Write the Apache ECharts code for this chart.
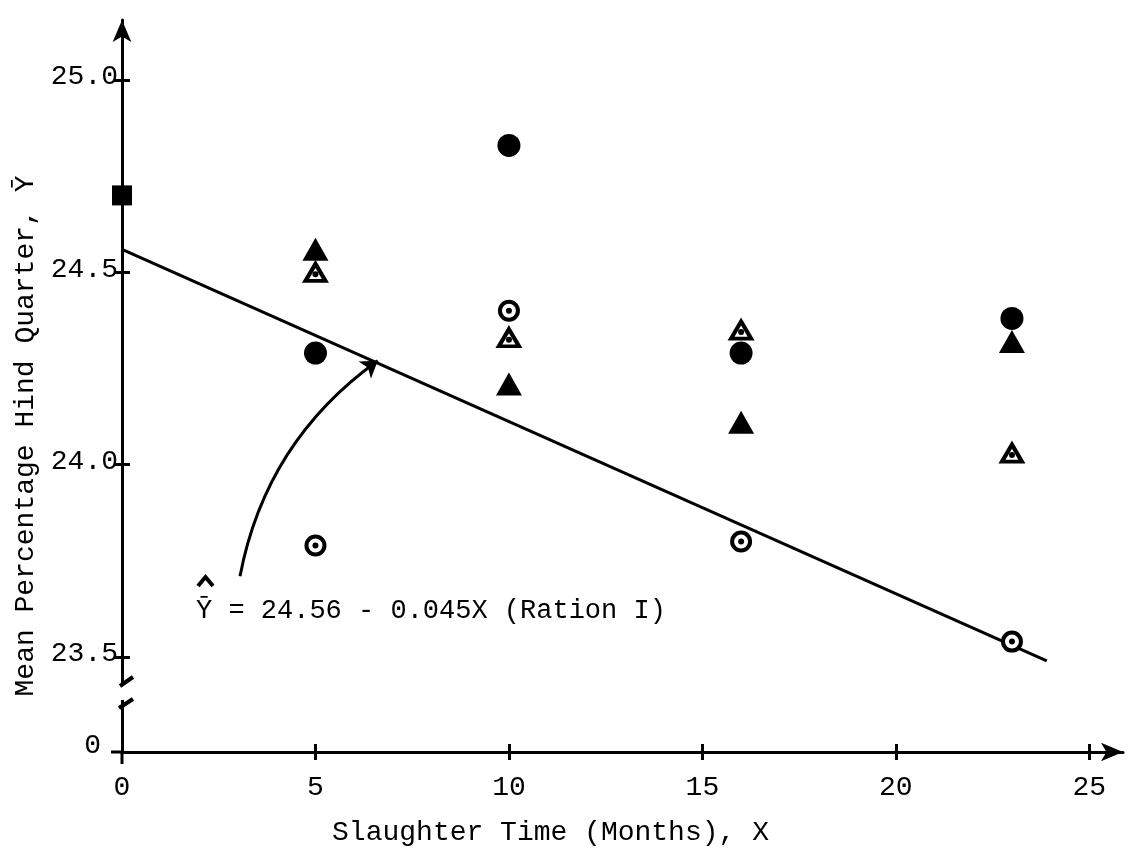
<!DOCTYPE html>
<html>
<head>
<meta charset="utf-8">
<title>Mean Percentage Hind Quarter vs Slaughter Time</title>
<script src="https://cdn.jsdelivr.net/npm/echarts@6/dist/echarts.min.js"></script>
<style>
  html, body { margin: 0; padding: 0; background: #fff; }
  #chart { width: 1135px; height: 855px; }
</style>
</head>
<body>
<div id="chart"></div>
<script>
// values: [months, mean % hind quarter]
const initial = [[0, 24.70]]
const filledCircles = [[5, 24.29], [10, 24.83], [16, 24.29], [23, 24.38]]
const filledTriangles = [[5, 24.56], [10, 24.21], [16, 24.11], [23, 24.32]]
const openTriangles = [[5, 24.50], [10, 24.33], [16, 24.35], [23, 24.03]]
const circledDots = [[5, 23.79], [10, 24.40], [16, 23.80], [23, 23.54]] // Ration I
const fitLine = [[0, 24.56], [23.9, 23.49]]
const arrowPath = [[3.05, 23.71], [6.61, 24.27]]

const xTicks = [5, 10, 15, 20, 25]
const xLabels = [0, 5, 10, 15, 20, 25]
const yTicks = [23.5, 24.0, 24.5, 25.0]
const yZero = 23.253 // bottom of the broken axis, shown as 0
const yLabels = [yZero, 23.5, 24.0, 24.5, 25.0]

const FONT = '"Liberation Mono", "DejaVu Sans Mono", monospace'
const INK = '#000'
const X_MAX = 25.87
const Y_MAX = 25.156

const chart = echarts.init(document.getElementById('chart'), null, { renderer: 'canvas' })

const textStyle = { color: INK, fontFamily: FONT, fontSize: 28 }

// second axis of each kind only draws the inner half of the crossing ticks
const innerTicks = (values) => ({
  show: true, inside: true, length: 8, customValues: values,
  lineStyle: { color: INK, width: 3 }
})

const solid = { color: INK, opacity: 1 }
const hollow = { color: '#fff', borderColor: INK, borderWidth: 4, opacity: 1 }

const option = {
  animation: false,
  backgroundColor: '#fff',
  grid: { left: 122, top: 20, width: 1001, height: 732 },
  xAxis: [
    {
      type: 'value', min: 0, max: X_MAX, position: 'bottom',
      name: 'Slaughter Time (Months), X',
      nameLocation: 'middle', nameGap: 67,
      nameTextStyle: { ...textStyle, padding: [0, 144, 0, 0] },
      axisLine: {
        show: true, symbol: ['none', 'arrow'], symbolSize: [14, 22],
        lineStyle: { color: INK, width: 3 }
      },
      axisTick: { show: true, length: 8, customValues: xTicks, lineStyle: { color: INK, width: 3 } },
      axisLabel: { ...textStyle, margin: 22, customValues: xLabels },
      splitLine: { show: false }
    },
    {
      type: 'value', min: 0, max: X_MAX, position: 'bottom', offset: 0,
      axisLine: { show: false },
      axisTick: innerTicks(xTicks),
      axisLabel: { show: false },
      splitLine: { show: false }
    }
  ],
  yAxis: [
    {
      type: 'value', min: yZero, max: Y_MAX, position: 'left',
      name: 'Mean Percentage Hind Quarter, \u0232',
      nameLocation: 'middle', nameGap: 78,
      nameTextStyle: { ...textStyle, padding: [0, 100, 0, 0] },
      axisLine: {
        show: true, symbol: ['none', 'arrow'], symbolSize: [14, 22],
        lineStyle: { color: INK, width: 3 }
      },
      axisTick: { show: true, length: 8, customValues: yTicks, lineStyle: { color: INK, width: 3 } },
      axisLabel: {
        ...textStyle, margin: 4, customValues: yLabels,
        formatter: (v) => Math.abs(v - yZero) < 1e-6 ? '{z|0}' : '{n|' + v.toFixed(1) + '}',
        rich: {
          z: { ...textStyle, padding: [0, 17, 12, 0] },
          n: { ...textStyle, padding: [0, 0, 6, 0] }
        }
      },
      splitLine: { show: false }
    },
    {
      type: 'value', min: yZero, max: Y_MAX, position: 'left', offset: 0,
      axisLine: { show: false },
      axisTick: innerTicks(yTicks),
      axisLabel: { show: false },
      splitLine: { show: false }
    }
  ],
  series: [
    {
      name: 'Fitted line (Ration I)',
      type: 'line',
      data: fitLine,
      symbol: 'none',
      lineStyle: { color: INK, width: 3 },
      z: 2
    },
    {
      name: 'Pointer',
      type: 'lines',
      coordinateSystem: 'cartesian2d',
      data: [{ coords: arrowPath }],
      symbol: ['none', 'arrow'],
      symbolSize: 16,
      lineStyle: { color: INK, width: 3, curveness: 0.2, opacity: 1 },
      z: 2
    },
    {
      name: 'Initial',
      type: 'scatter',
      data: initial,
      symbol: 'rect',
      symbolSize: [20, 20],
      itemStyle: solid,
      z: 3
    },
    {
      name: 'Filled circle',
      type: 'scatter',
      data: filledCircles,
      symbol: 'circle',
      symbolSize: 23,
      itemStyle: solid,
      z: 3
    },
    {
      name: 'Filled triangle',
      type: 'scatter',
      data: filledTriangles,
      symbol: 'triangle',
      symbolSize: [26, 23],
      itemStyle: solid,
      z: 3
    },
    {
      name: 'Open triangle',
      type: 'scatter',
      data: openTriangles,
      symbol: 'triangle',
      symbolSize: [20, 17],
      itemStyle: hollow,
      z: 3
    },
    {
      name: 'Open triangle dot',
      type: 'scatter',
      data: openTriangles,
      symbol: 'circle',
      symbolSize: 6,
      symbolOffset: [0, 2],
      itemStyle: solid,
      z: 4
    },
    {
      name: 'Ration I',
      type: 'scatter',
      data: circledDots,
      symbol: 'circle',
      symbolSize: 18,
      itemStyle: hollow,
      z: 3
    },
    {
      name: 'Ration I dot',
      type: 'scatter',
      data: circledDots,
      symbol: 'circle',
      symbolSize: 6,
      itemStyle: solid,
      z: 4
    }
  ],
  graphic: [
    // break in the y axis between 0 and 23.5
    {
      type: 'rect', z: 100,
      shape: { x: 112, y: 685, width: 20, height: 15 },
      style: { fill: '#fff' }
    },
    {
      type: 'line', z: 101,
      shape: { x1: 120, y1: 686, x2: 133, y2: 677 },
      style: { stroke: INK, lineWidth: 4 }
    },
    {
      type: 'line', z: 101,
      shape: { x1: 119, y1: 708, x2: 133, y2: 699 },
      style: { stroke: INK, lineWidth: 4 }
    },
    // axes cross a little past the origin
    {
      type: 'line', z: 101,
      shape: { x1: 122, y1: 752, x2: 122, y2: 764 },
      style: { stroke: INK, lineWidth: 3 }
    },
    {
      type: 'line', z: 101,
      shape: { x1: 111, y1: 752, x2: 122, y2: 752 },
      style: { stroke: INK, lineWidth: 3 }
    },
    // regression equation with hat over Y-bar
    {
      type: 'polyline', z: 101,
      shape: { points: [[198, 586], [205.5, 577], [213, 586]] },
      style: { stroke: INK, lineWidth: 4, fill: null }
    },
    {
      type: 'text', z: 101, left: 196, top: 597,
      style: { text: '\u0232 = 24.56 - 0.045X (Ration I)', font: '27px ' + FONT, fill: INK }
    }
  ]
}

chart.setOption(option)
window.addEventListener('resize', () => chart.resize())
</script>
</body>
</html>
